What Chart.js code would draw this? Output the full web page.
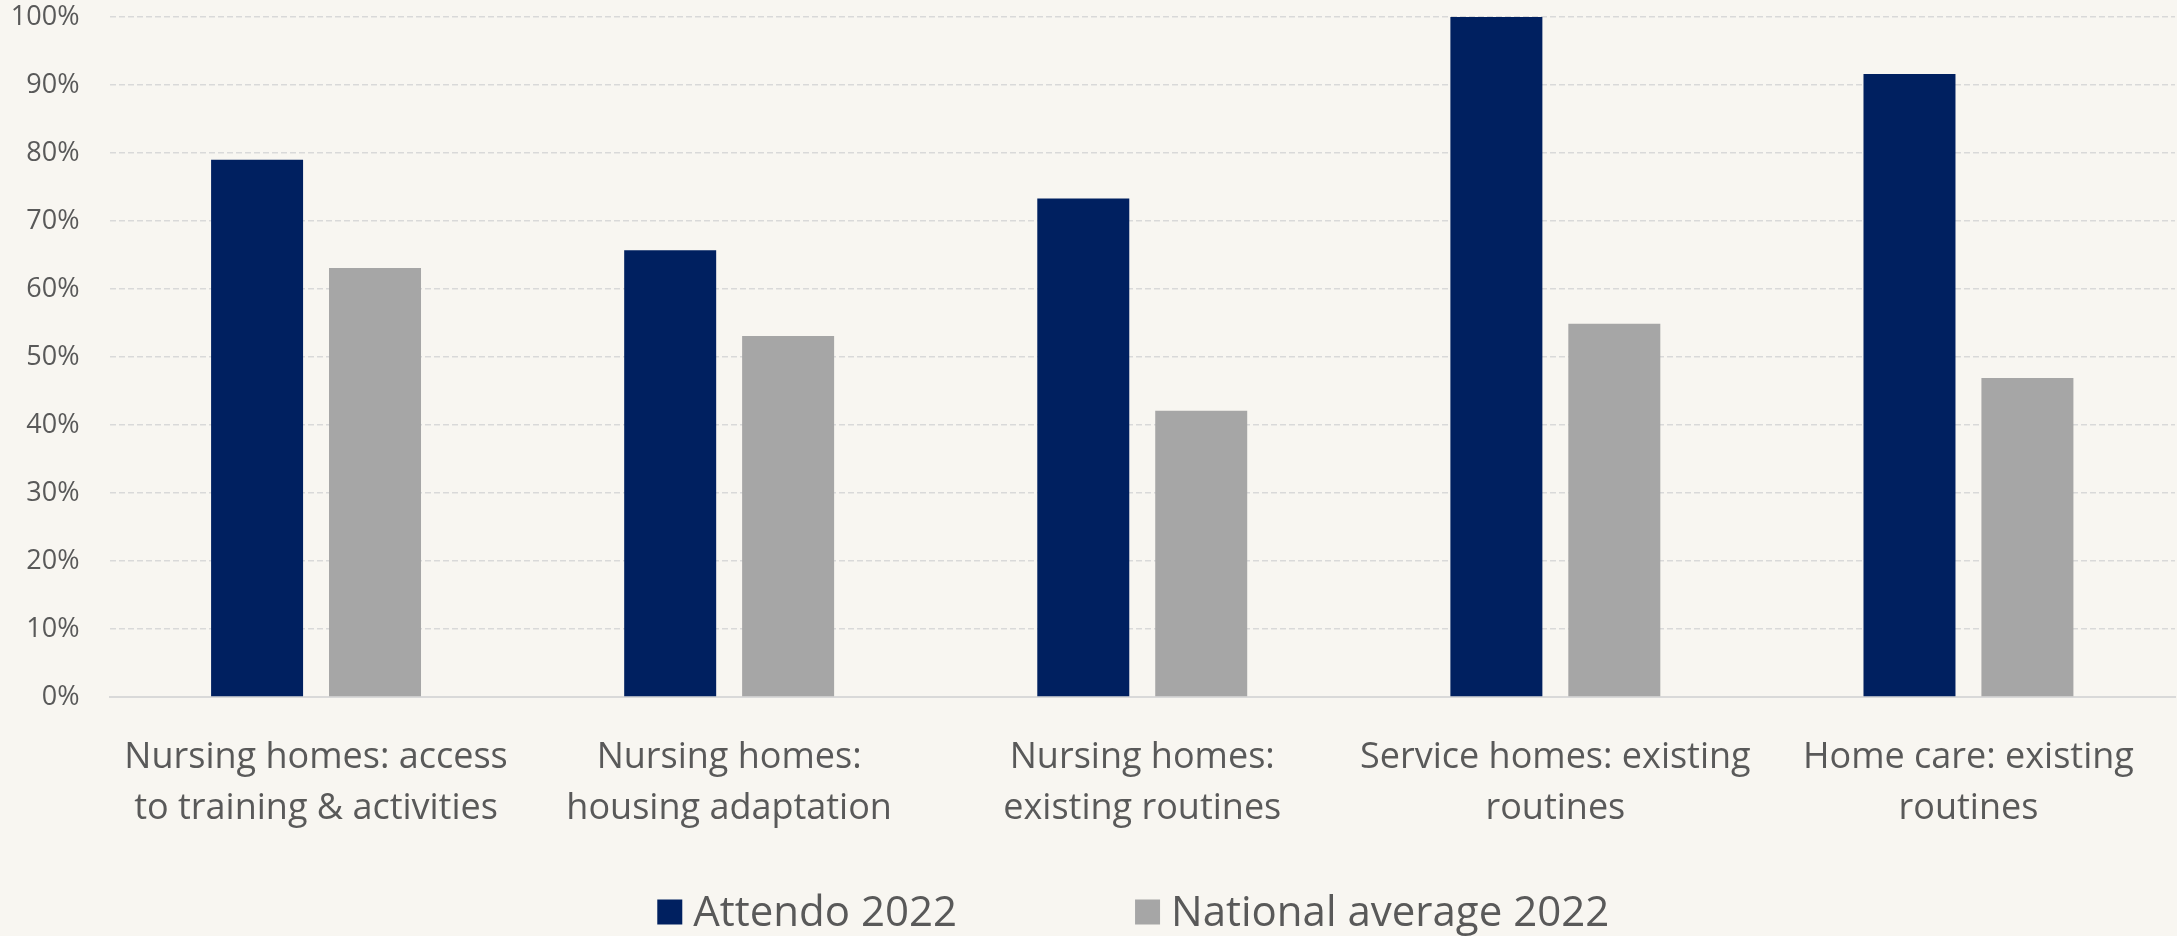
<!DOCTYPE html>
<html>
<head>
<meta charset="utf-8">
<script src="https://cdn.jsdelivr.net/npm/chart.js@4.4.1/dist/chart.umd.min.js"></script>
<style>
  html, body { margin: 0; padding: 0; background: #f8f6f1; }
  canvas { display: block; }
</style>
</head>
<body>
<canvas id="chart1" width="2177" height="936"></canvas>
<script>
// Values (percent).
const categories = [
  ['Nursing homes: access', 'to training & activities'],
  ['Nursing homes:', 'housing adaptation'],
  ['Nursing homes:', 'existing routines'],
  ['Service homes: existing', 'routines'],
  ['Home care: existing', 'routines']
];
const attendo2022 = [79.0, 65.7, 73.3, 100, 91.6];
const national2022 = [63.1, 53.1, 42.1, 54.9, 46.9];
const seriesNames = ['Attendo 2022', 'National average 2022'];
const seriesColors = ['#002060', '#a6a6a6'];
const yMin = 0, yMax = 100, yStep = 10;

const textColor = '#595959';
const gridColor = '#d9d9d9';

// Legend drawn by hand so the spacing between the two entries matches.
const bottomLegend = {
  id: 'bottomLegend',
  afterDraw(chart) {
    const ctx = chart.ctx;
    const area = chart.chartArea;
    const box = 25, gap = 11, spacing = 178, y = 912;
    ctx.save();
    ctx.font = '42px "Open Sans"';
    ctx.textBaseline = 'middle';
    const items = chart.data.datasets.map(ds => ({
      text: ds.label,
      color: ds.backgroundColor,
      w: ctx.measureText(ds.label).width
    }));
    const total = items.reduce((s, it) => s + box + gap + it.w, 0) + spacing * (items.length - 1);
    let x = (area.left + area.right) / 2 - 9 - total / 2;
    items.forEach(it => {
      ctx.fillStyle = it.color;
      ctx.fillRect(x, y - box / 2, box, box);
      ctx.fillStyle = textColor;
      ctx.fillText(it.text, x + box + gap, y + 2);
      x += box + gap + it.w + spacing;
    });
    ctx.restore();
  }
};

const ctx = document.getElementById('chart1').getContext('2d');
const myChart = new Chart(ctx, {
  type: 'bar',
  data: {
    labels: categories,
    datasets: [
      {
        label: seriesNames[0],
        data: attendo2022,
        backgroundColor: seriesColors[0],
        borderWidth: 0
      },
      {
        label: seriesNames[1],
        data: national2022,
        backgroundColor: seriesColors[1],
        borderWidth: 0
      }
    ]
  },
  options: {
    responsive: false,
    animation: false,
    devicePixelRatio: 1,
    categoryPercentage: 0.571,
    barPercentage: 0.78,
    layout: {
      padding: { top: 17, right: 2, left: 0, bottom: 0 }
    },
    plugins: {
      legend: { display: false },
      tooltip: { enabled: false }
    },
    scales: {
      x: {
        grid: { display: false },
        border: { display: true, color: gridColor, width: 2 },
        ticks: {
          color: textColor,
          padding: 27,
          maxRotation: 0,
          autoSkip: false,
          font: { family: '"Open Sans"', size: 36, lineHeight: 51 / 36 }
        },
        afterFit: function(scale) {
          scale.height = 239;
        }
      },
      y: {
        min: yMin,
        max: yMax,
        grid: {
          color: function(c) { return c.tick && c.tick.value === 0 ? 'rgba(0,0,0,0)' : gridColor; },
          lineWidth: 1.5,
          drawTicks: true,
          tickLength: 30,
          tickColor: 'rgba(0,0,0,0)'
        },
        border: { display: false, dash: [6, 3] },
        ticks: {
          stepSize: yStep,
          color: textColor,
          padding: 0,
          font: { family: '"Open Sans"', size: 27 },
          callback: function(value) {
            return value + '%';
          }
        },
        afterFit: function(scale) {
          scale.width = 109.5;
        }
      }
    }
  },
  plugins: [bottomLegend]
});
</script>
</body>
</html>
